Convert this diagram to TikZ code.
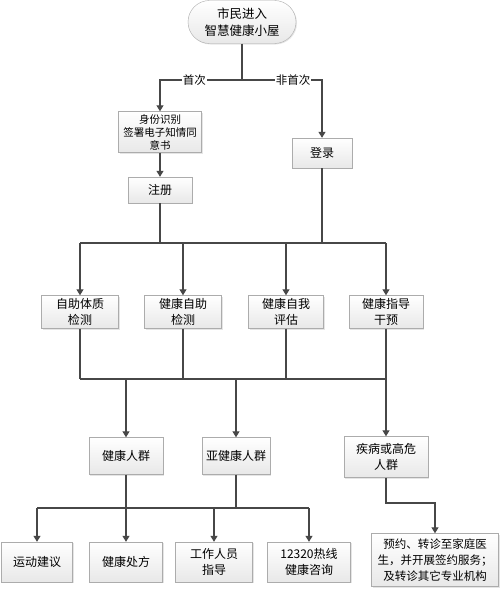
\documentclass[tikz,border=0pt]{standalone}
\usepackage{fontspec}
\setmainfont{Noto Sans CJK SC}
\usetikzlibrary{arrows.meta,positioning,shapes.misc,shadows}

\tikzset{
  box/.style={draw=gray!65,top color=white,bottom color=gray!18,align=center,
    inner sep=1pt,font=\fontsize{12}{16}\selectfont,
    drop shadow={opacity=0.2,shadow xshift=1pt,shadow yshift=-1pt}},
  startbox/.style={box,rounded rectangle,font=\fontsize{12.5}{17}\selectfont},
  link/.style={draw=black!72,line width=1.2pt},
  arr/.style={link,-{Triangle[length=6pt,width=7pt]}},
  tag/.style={fill=white,inner sep=1pt,font=\fontsize{11.5}{13}\selectfont},
}

\begin{document}
\begin{tikzpicture}[x=1pt,y=-1pt]
\fill[white] (0,0) rectangle (500,589);
\useasboundingbox (0,0) rectangle (500,589);

% entry and login
\node[startbox,minimum width=110pt,minimum height=43pt] (start) at (242,22) {市民进入\\智慧健康小屋};
\node[box,minimum width=83pt,minimum height=41pt,font=\fontsize{10.5}{13}\selectfont] (ident) at (160,132) {身份识别\\签署电子知情同\\意书};
\node[box,minimum width=64pt,minimum height=26pt] (reg) at (160,190) {注册};
\node[box,minimum width=60pt,minimum height=30pt] (login) at (322,153) {登录};

\coordinate (split) at (242,80);
\coordinate (first) at (160,80);
\coordinate (again) at (322,80);
\draw[link] (start) -- (split);
\draw[arr] (split) -- node[tag,pos=0.58] (tfirst) {首次} (first) -- (ident);
\draw[arr] (split) -- node[tag,pos=0.64] (tagain) {非首次} (again) -- (login);
\draw[arr] (ident) -- (reg);

% services
\node[box,minimum width=77pt,minimum height=33pt] (body) at (80,312) {自助体质\\检测};
\node[box,minimum width=77pt,minimum height=33pt] (self) at (183,312) {健康自助\\检测};
\node[box,minimum width=75pt,minimum height=33pt] (assess) at (286,312) {健康自我\\评估};
\node[box,minimum width=74pt,minimum height=33pt] (advice) at (386,312) {健康指导\\干预};

\coordinate (busL) at (80,243);
\coordinate (busR) at (386,243);
\draw[link] (reg) -- (reg |- busL);
\draw[link] (login) -- (login |- busL);
\draw[link] (busL) -- (busR);
\foreach \n in {body,self,assess,advice}
  \draw[arr] (\n |- busL) -- (\n);

\coordinate (sumL) at (80,379);
\coordinate (sumR) at (386,379);
\foreach \n in {body,self,assess,advice}
  \draw[link] (\n) -- (\n |- sumL);
\draw[link] (sumL) -- (sumR);

% groups
\node[box,minimum width=74pt,minimum height=37pt] (healthy) at (126,456) {健康人群};
\node[box,minimum width=68pt,minimum height=37pt] (sub) at (236,456) {亚健康人群};
\node[box,minimum width=84pt,minimum height=41pt] (risk) at (386,457) {疾病或高危\\人群};
\foreach \n in {healthy,sub,risk}
  \draw[arr] (\n |- sumL) -- (\n);

% results
\node[box,minimum width=71pt,minimum height=40pt] (sport) at (37,562) {运动建议};
\node[box,minimum width=73pt,minimum height=40pt] (presc) at (126,562) {健康处方};
\node[box,minimum width=77pt,minimum height=40pt] (guide) at (214,562) {工作人员\\指导};
\node[box,minimum width=83pt,minimum height=40pt] (hotline) at (309,562) {12320热线\\健康咨询};
\node[box,minimum width=127pt,minimum height=53pt,font=\fontsize{11.5}{16}\selectfont] (refer) at (435,560) {预约、转诊至家庭医\\生，并开展签约服务；\\及转诊其它专业机构};

\coordinate (outL) at (37,508);
\coordinate (outR) at (309,508);
\draw[link] (healthy) -- (healthy |- outL);
\draw[link] (sub) -- (sub |- outL);
\draw[link] (outL) -- (outR);
\foreach \n in {sport,presc,guide,hotline}
  \draw[arr] (\n |- outL) -- (\n);

\coordinate (turn) at (435,503);
\draw[arr] (risk) |- (turn) -- (refer);
\end{tikzpicture}
\end{document}
